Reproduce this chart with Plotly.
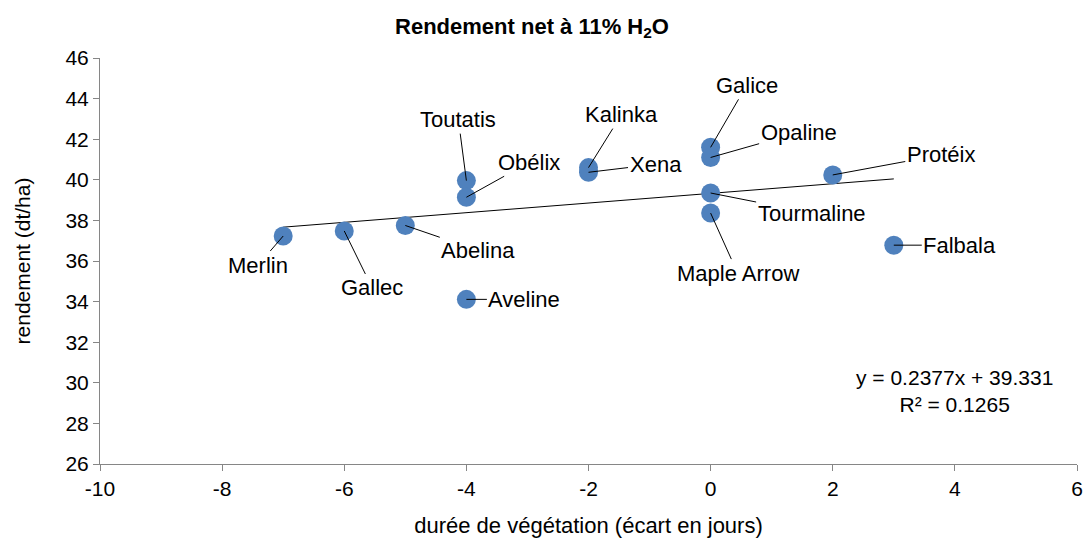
import plotly.graph_objects as go

# ---- data ----
varieties = ["Merlin", "Gallec", "Abelina", "Aveline", "Toutatis", "Obélix",
             "Kalinka", "Xena", "Galice", "Opaline", "Tourmaline",
             "Maple Arrow", "Protéix", "Falbala"]
duree = [-7, -6, -5, -4, -4, -4, -2, -2, 0, 0, 0, 0, 2, 3]
rendement = [37.23, 37.48, 37.75, 34.11, 39.96, 39.14, 40.6, 40.37,
             41.6, 41.1, 39.35, 38.36, 40.24, 36.78]
trend_slope = 0.2377
trend_intercept = 39.331
trend_r2 = 0.1265
x_ticks = [-10, -8, -6, -4, -2, 0, 2, 4, 6]
y_ticks = [26, 28, 30, 32, 34, 36, 38, 40, 42, 44, 46]

# label placement (pixel offsets from the point, layout only)
label_offsets = {
    "Merlin": (-25, 29), "Gallec": (28, 57), "Abelina": (73, 25),
    "Aveline": (58, 0), "Toutatis": (-8, -61), "Obélix": (63, -35),
    "Kalinka": (33, -53), "Xena": (67, -8), "Galice": (36, -62),
    "Opaline": (88, -25), "Tourmaline": (101, 20), "Maple Arrow": (27, 60),
    "Protéix": (108, -20), "Falbala": (66, 0),
}

FONT = "Liberation Sans, Arial, sans-serif"
AXIS_COLOR = "#868686"

# the page body keeps its default 8px margin, so the figure is 8px smaller
PAGE_OFF = 8
W, H = 1091 - PAGE_OFF, 542 - PAGE_OFF

fig = go.Figure()

xmin, xmax = min(duree), max(duree)
fig.add_trace(go.Scatter(
    x=[xmin, xmax],
    y=[trend_slope * xmin + trend_intercept, trend_slope * xmax + trend_intercept],
    mode="lines", line=dict(color="black", width=1), showlegend=False,
    hoverinfo="skip"))

fig.add_trace(go.Scatter(
    x=duree, y=rendement, mode="markers", text=varieties,
    marker=dict(color="#4F81BD", size=19, line=dict(width=0)),
    showlegend=False))

for name, xv, yv in zip(varieties, duree, rendement):
    dx, dy = label_offsets[name]
    fig.add_annotation(
        x=xv, y=yv, ax=dx, ay=dy, text=name, showarrow=True,
        arrowhead=0, arrowwidth=1, arrowcolor="black", standoff=0,
        font=dict(family=FONT, size=22, color="black"))

fig.add_annotation(
    xref="paper", yref="paper", x=(960 - 100) / 983, y=(467 - 393) / 409,
    text=f"y = {trend_slope}x + {trend_intercept}<br>R² = {trend_r2}",
    showarrow=False, align="center", xanchor="center", yanchor="middle",
    font=dict(family=FONT, size=21, color="black"))

fig.update_layout(
    width=W, height=H,
    margin=dict(l=100 - PAGE_OFF, r=8, t=58 - PAGE_OFF, b=75),
    paper_bgcolor="white", plot_bgcolor="white",
    font=dict(family=FONT, size=21, color="black"),
    title=dict(text="<b>Rendement net à 11% H<sub>2</sub>O</b>",
               x=(532 - PAGE_OFF) / W, xanchor="center", xref="container",
               y=1 - (26 - PAGE_OFF) / H, yanchor="middle",
               font=dict(family=FONT, size=22, color="black")),
    xaxis=dict(range=[-10, 6], tickvals=x_ticks,
               ticktext=[str(v) for v in x_ticks],
               showgrid=False, zeroline=False,
               showline=True, linecolor=AXIS_COLOR, linewidth=1,
               ticks="outside", ticklen=6, tickcolor=AXIS_COLOR,
               ticklabeloverflow="allow",
               tickfont=dict(family=FONT, size=21, color="black"),
               title=dict(text="durée de végétation (écart en jours)",
                          standoff=18,
                          font=dict(family=FONT, size=22, color="black"))),
    yaxis=dict(range=[26, 46], tickvals=y_ticks,
               ticktext=[str(v) for v in y_ticks],
               showgrid=False, zeroline=False,
               showline=True, linecolor=AXIS_COLOR, linewidth=1,
               ticks="outside", ticklen=6, tickcolor=AXIS_COLOR,
               tickfont=dict(family=FONT, size=21, color="black"),
               title=dict(text="rendement (dt/ha)", standoff=29,
                          font=dict(family=FONT, size=21, color="black"))),
)

fig.write_html("out.html")
